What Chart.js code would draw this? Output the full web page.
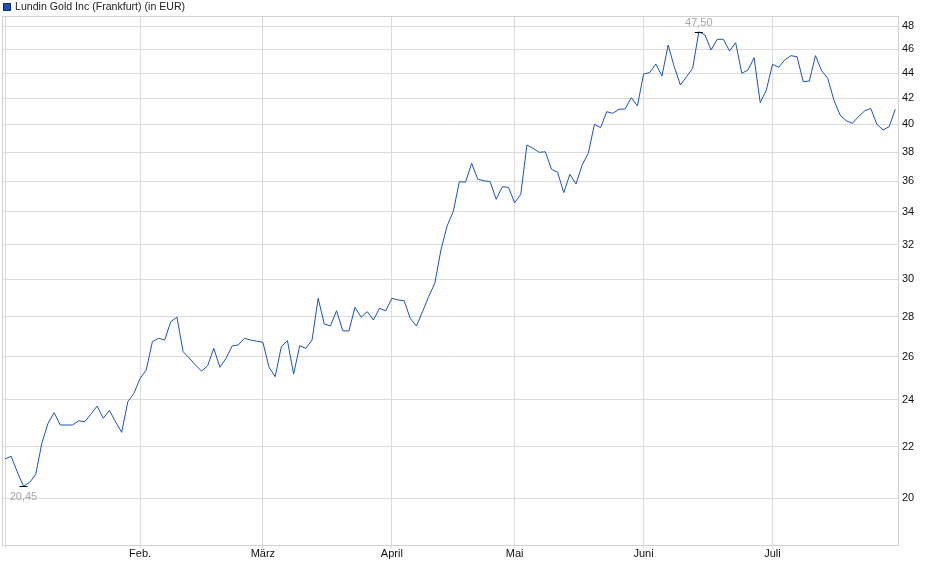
<!DOCTYPE html>
<html>
<head>
    <title>Lundin Gold Inc (Frankfurt)</title>
    <script src="https://cdn.jsdelivr.net/npm/chart.js"></script>
    <style>
        body {
            margin: 0;
            background: #ffffff;
        }
        #chart {
            display: block;
        }
    </style>
</head>
<body>
    <canvas id="chart" width="940" height="579"></canvas>

    <script>
        const seriesLabel = 'Lundin Gold Inc (Frankfurt) (in EUR)';

        // daily closing prices, 2 Jan - 29 Jul (trading days)
        const prices = [
            21.50, 21.61, 20.99, 20.45, 20.58, 20.90, 22.14, 22.97, 23.43, 22.90,
            22.90, 22.90, 23.08, 23.04, 23.37, 23.72, 23.19, 23.53, 23.04, 22.59,
            23.91, 24.29, 24.97, 25.36, 26.73, 26.90, 26.81, 27.74, 27.97, 26.24,
            25.93, 25.60, 25.31, 25.56, 26.40, 25.49, 25.92, 26.52, 26.57, 26.90,
            26.81, 26.75, 26.70, 25.49, 25.05, 26.48, 26.78, 25.17, 26.53, 26.40,
            26.81, 28.97, 27.62, 27.52, 28.31, 27.28, 27.26, 28.49, 27.97, 28.26,
            27.83, 28.44, 28.30, 28.97, 28.88, 28.84, 27.91, 27.52, 28.26, 29.06,
            29.79, 31.69, 33.13, 34.02, 35.97, 35.93, 37.21, 36.13, 36.03, 35.97,
            34.81, 35.63, 35.59, 34.59, 35.13, 38.50, 38.26, 37.98, 38.02, 36.80,
            36.60, 35.24, 36.46, 35.81, 37.10, 37.91, 40.01, 39.76, 40.95, 40.83,
            41.14, 41.16, 42.03, 41.39, 43.92, 44.03, 44.74, 43.76, 46.35, 44.52,
            43.03, 43.70, 44.39, 47.50, 47.22, 45.92, 46.84, 46.84, 45.84, 46.55,
            43.98, 44.25, 45.27, 41.64, 42.64, 44.72, 44.47, 45.08, 45.44, 45.35,
            43.30, 43.35, 45.44, 44.19, 43.57, 41.85, 40.70, 40.28, 40.08, 40.58,
            41.01, 41.21, 40.01, 39.59, 39.83, 41.14
        ];

        // index of first trading day of each month
        const monthTicks = [0, 22, 42, 63, 83, 104, 125];
        const monthLabels = ['', 'Feb.', 'März', 'April', 'Mai', 'Juni', 'Juli'];
        const yTicks = [20, 22, 24, 26, 28, 30, 32, 34, 36, 38, 40, 42, 44, 46, 48];

        const font = { family: '"Liberation Sans", Arial, sans-serif', size: 11 };
        const gridColor = '#dcdcdc';

        function fmt(v) {
            return v.toFixed(2).replace('.', ',');
        }

        const decor = {
            id: 'decor',
            afterDraw(chart) {
                const ctx = chart.ctx;
                const a = chart.chartArea;
                const x = chart.scales.x;
                const y = chart.scales.y;
                ctx.save();

                // frame round the plot
                ctx.strokeStyle = '#d2d2d2';
                ctx.lineWidth = 1;
                ctx.strokeRect(Math.round(a.left) - 0.5, Math.round(a.top) + 0.5,
                    Math.round(a.right - a.left) + 1, Math.round(a.bottom - a.top));

                // min / max markers
                const lo = Math.min(...prices);
                const hi = Math.max(...prices);
                const iLo = prices.indexOf(lo);
                const iHi = prices.indexOf(hi);
                ctx.font = '11px "Liberation Sans", Arial, sans-serif';
                ctx.textAlign = 'center';
                ctx.textBaseline = 'middle';
                ctx.strokeStyle = '#000000';

                let px = x.getPixelForValue(iLo);
                let py = Math.round(y.getPixelForValue(lo)) + 0.5;
                ctx.beginPath();
                ctx.moveTo(px - 4, py);
                ctx.lineTo(px + 4, py);
                ctx.stroke();
                ctx.fillStyle = '#a6a6a6';
                ctx.fillText(fmt(lo), px, py + 10.5);

                px = x.getPixelForValue(iHi);
                py = Math.round(y.getPixelForValue(hi)) + 0.5;
                ctx.beginPath();
                ctx.moveTo(px - 4, py);
                ctx.lineTo(px + 4, py);
                ctx.stroke();
                ctx.fillStyle = '#a6a6a6';
                ctx.fillText(fmt(hi), px, py - 10);

                // legend
                ctx.fillStyle = '#1f4fc0';
                ctx.fillRect(3, 3, 8, 8);
                ctx.strokeStyle = '#1a2a5a';
                ctx.strokeRect(3.5, 3.5, 7, 7);
                ctx.fillStyle = '#222222';
                ctx.textAlign = 'left';
                ctx.font = '10.6px "Liberation Sans", Arial, sans-serif';
                ctx.fillText(seriesLabel, 15, 7.5);

                ctx.restore();
            }
        };

        const ctx = document.getElementById('chart').getContext('2d');
        const priceChart = new Chart(ctx, {
            type: 'line',
            data: {
                datasets: [{
                    label: seriesLabel,
                    data: prices.map((p, i) => ({ x: i, y: p })),
                    borderColor: '#1a52c2',
                    borderWidth: 1,
                    pointRadius: 0,
                    tension: 0,
                    fill: false
                }]
            },
            options: {
                responsive: false,
                animation: false,
                layout: { padding: { left: 3, top: 16, right: 0, bottom: 0 } },
                plugins: {
                    legend: { display: false },
                    tooltip: { enabled: false }
                },
                scales: {
                    x: {
                        type: 'linear',
                        min: -0.33,
                        max: 145.44,
                        afterBuildTicks: s => { s.ticks = monthTicks.map(v => ({ value: v })); },
                        afterFit: s => { s.height = 34; },
                        ticks: {
                            autoSkip: false,
                            maxRotation: 0,
                            padding: -1,
                            font: font,
                            color: '#111111',
                            callback: v => monthLabels[monthTicks.indexOf(v)]
                        },
                        grid: { color: gridColor, tickLength: 3 },
                        border: { color: '#d2d2d2' }
                    },
                    y: {
                        type: 'logarithmic',
                        position: 'right',
                        min: 18.33,
                        max: 48.91,
                        afterBuildTicks: s => { s.ticks = yTicks.map(v => ({ value: v })); },
                        afterFit: s => { s.width = 42; },
                        ticks: {
                            padding: 4,
                            font: font,
                            color: '#111111',
                            callback: v => String(v)
                        },
                        grid: { color: gridColor, drawTicks: false },
                        border: { color: '#d2d2d2' }
                    }
                }
            },
            plugins: [decor]
        });
    </script>
</body>
</html>
